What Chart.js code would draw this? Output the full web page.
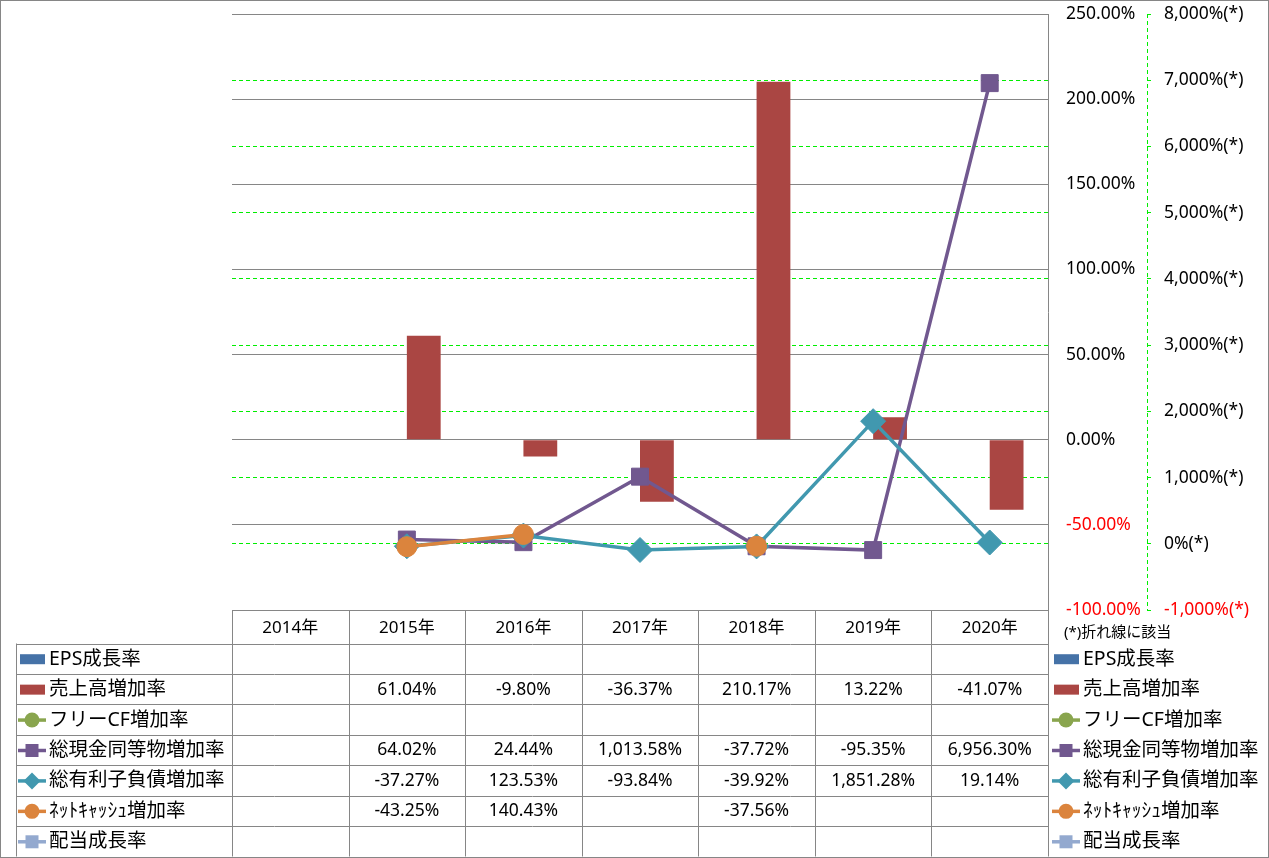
<!DOCTYPE html>
<html><head><meta charset="utf-8">
<script src="https://cdn.jsdelivr.net/npm/chart.js@4.4.1/dist/chart.umd.min.js"></script>
<style>html,body{margin:0;padding:0;background:#fff}#wrap{position:relative;width:1269px;height:858px}canvas{display:block}</style>
</head><body><div id="wrap"><canvas id="c" width="1269" height="858"></canvas></div>
<script>
// ---- data ----
const categories = ['2014年','2015年','2016年','2017年','2018年','2019年','2020年'];
const epsGrowth      = [null, null, null, null, null, null, null];
const salesGrowth    = [null, 61.04, -9.80, -36.37, 210.17, 13.22, -41.07];
const freeCfGrowth   = [null, null, null, null, null, null, null];
const cashGrowth     = [null, 64.02, 24.44, 1013.58, -37.72, -95.35, 6956.30];
const debtGrowth     = [null, -37.27, 123.53, -93.84, -39.92, 1851.28, 19.14];
const netCashGrowth  = [null, -43.25, 140.43, null, -37.56, null, null];
const dividendGrowth = [null, null, null, null, null, null, null];
const seriesNames = ['EPS成長率','売上高増加率','フリーCF増加率','総現金同等物増加率','総有利子負債増加率','ﾈｯﾄｷｬｯｼｭ増加率','配当成長率'];
const primaryRange = [-100, 250, 50];
const secondaryRange = [-1000, 8000, 1000];
const secondaryNote = '(*)折れ線に該当';

const FONT = '"Noto Sans", "Noto Sans CJK JP", sans-serif';
const GRID = '#868686';
const GREEN = '#00EE00';

const series = [
  {name: seriesNames[0], data: epsGrowth, kind: 'bar', color: '#4572A7'},
  {name: seriesNames[1], data: salesGrowth, kind: 'bar', color: '#AA4643'},
  {name: seriesNames[2], data: freeCfGrowth, kind: 'line', color: '#89A54E', shape: 'circle', order: 5},
  {name: seriesNames[3], data: cashGrowth, kind: 'line', color: '#71588F', shape: 'rect', order: 4},
  {name: seriesNames[4], data: debtGrowth, kind: 'line', color: '#4198AF', shape: 'rectRot', order: 3},
  {name: seriesNames[5], data: netCashGrowth, kind: 'line', color: '#DB843D', shape: 'circle', order: 2},
  {name: seriesNames[6], data: dividendGrowth, kind: 'line', color: '#93A9CF', shape: 'rect', order: 1}
];

const radiusFor = {circle: 10, rect: 12, rectRot: 12.5};

const datasets = series.map(s => s.kind === 'bar' ? {
  type: 'bar', label: s.name, data: s.data, backgroundColor: s.color,
  yAxisID: 'y', order: 10, barPercentage: 1, categoryPercentage: 0.58
} : {
  type: 'line', label: s.name, data: s.data, borderColor: s.color, backgroundColor: s.color,
  borderWidth: 3.5, pointStyle: s.shape, pointRadius: radiusFor[s.shape], pointHoverRadius: radiusFor[s.shape],
  pointBackgroundColor: s.color, pointBorderColor: s.color, pointBorderWidth: 1,
  yAxisID: 'y2', order: s.order, tension: 0, spanGaps: false
});

function fmtPct(v) {
  return v.toLocaleString('en-US', {minimumFractionDigits: 2, maximumFractionDigits: 2}) + '%';
}

function drawShape(ctx, shape, x, y, r) {
  ctx.beginPath();
  if (shape === 'circle') {
    ctx.arc(x, y, r, 0, Math.PI * 2);
  } else if (shape === 'rect') {
    ctx.rect(x - r, y - r, 2 * r, 2 * r);
  } else {
    ctx.moveTo(x, y - r); ctx.lineTo(x + r, y); ctx.lineTo(x, y + r); ctx.lineTo(x - r, y); ctx.closePath();
  }
  ctx.fill();
}

function drawLegendMarker(ctx, s, x, y) {
  ctx.save();
  if (s.kind === 'bar') {
    ctx.fillStyle = s.color;
    ctx.fillRect(x + 1, y - 5, 25, 10);
  } else {
    ctx.strokeStyle = s.color; ctx.lineWidth = 3.5;
    ctx.beginPath(); ctx.moveTo(x - 1, y); ctx.lineTo(x + 27, y); ctx.stroke();
    ctx.fillStyle = s.color;
    const r = s.shape === 'circle' ? 7.5 : (s.shape === 'rect' ? 6.5 : 8.5);
    drawShape(ctx, s.shape, x + 13, y, r);
  }
  ctx.restore();
}

const tablePlugin = {
  id: 'dataTable',
  beforeDatasetsDraw(chart) {
    const ctx = chart.ctx, ca = chart.chartArea, y2 = chart.scales.y2;
    ctx.save();
    ctx.strokeStyle = GREEN; ctx.lineWidth = 1; ctx.setLineDash([4, 3]);
    const x = Math.round(y2.left) + 0.5;
    ctx.beginPath(); ctx.moveTo(x, ca.top); ctx.lineTo(x, ca.bottom); ctx.stroke();
    ctx.restore();
  },
  afterDraw(chart) {
    const ctx = chart.ctx, ca = chart.chartArea;
    const n = categories.length;
    const colW = (ca.right - ca.left) / n;
    const tableTop = Math.round(ca.bottom) + 0.5;
    const headerBottom = tableTop + 33;
    const tableBottom = chart.height - 1.5;
    const rowH = (tableBottom - headerBottom) / series.length;
    const labelLeft = 16.5;
    ctx.save();
    ctx.strokeStyle = GRID; ctx.lineWidth = 1;
    for (let i = 0; i <= n; i++) {
      const x = Math.round(ca.left + i * colW) + 0.5;
      ctx.beginPath(); ctx.moveTo(x, tableTop); ctx.lineTo(x, tableBottom); ctx.stroke();
    }
    ctx.beginPath(); ctx.moveTo(labelLeft, headerBottom); ctx.lineTo(labelLeft, tableBottom); ctx.stroke();
    for (let r = 0; r <= series.length; r++) {
      const y = Math.round(headerBottom + r * rowH) + 0.5;
      ctx.beginPath(); ctx.moveTo(labelLeft, y); ctx.lineTo(Math.round(ca.right) + 0.5, y); ctx.stroke();
    }
    ctx.fillStyle = '#000';
    ctx.textBaseline = 'middle';
    ctx.textAlign = 'center';
    ctx.font = '17px ' + FONT;
    categories.forEach((c, i) => {
      ctx.fillText(c, ca.left + (i + 0.5) * colW, (tableTop + headerBottom) / 2 + 1);
    });
    series.forEach((s, r) => {
      const yc = headerBottom + (r + 0.5) * rowH + 0.5;
      ctx.textAlign = 'center';
      ctx.font = '17.5px ' + FONT;
      ctx.fillStyle = '#000';
      s.data.forEach((v, i) => {
        if (v === null || v === undefined) return;
        ctx.fillText(fmtPct(v), ca.left + (i + 0.5) * colW, yc);
      });
      drawLegendMarker(ctx, s, 19, yc);
      ctx.fillStyle = '#000'; ctx.textAlign = 'left'; ctx.font = '19.5px ' + FONT;
      ctx.fillText(s.name, 49, yc);
      drawLegendMarker(ctx, s, 1053, yc);
      ctx.fillStyle = '#000'; ctx.textAlign = 'left'; ctx.font = '19.5px ' + FONT;
      ctx.fillText(s.name, 1083, yc);
    });
    ctx.font = '15px ' + FONT; ctx.textAlign = 'left'; ctx.fillStyle = '#000';
    ctx.fillText(secondaryNote, 1064, tableTop + 22);
    ctx.strokeStyle = GRID;
    ctx.strokeRect(0.5, 0.5, chart.width - 1, chart.height - 1);
    ctx.restore();
  }
};

Chart.defaults.font.family = FONT;
new Chart(document.getElementById('c'), {
  type: 'bar',
  data: {labels: categories, datasets},
  plugins: [tablePlugin],
  options: {
    responsive: false, animation: false, devicePixelRatio: 1,
    layout: {padding: {left: 232, top: 14, right: 0, bottom: 248}},
    plugins: {legend: {display: false}, tooltip: {enabled: false}},
    scales: {
      x: {display: false, offset: true},
      y: {
        position: 'right', weight: 0,
        min: primaryRange[0], max: primaryRange[1],
        ticks: {stepSize: primaryRange[2], callback: v => v.toFixed(2) + '%',
          color: c => c.tick.value < 0 ? '#FF0000' : '#000', font: {size: 17.5}, padding: 18},
        grid: {color: GRID, drawTicks: false, lineWidth: 1},
        border: {display: true, color: GRID, width: 1},
        afterFit: s => { s.width = 99; s.paddingTop = 0; s.paddingBottom = 0; }
      },
      y2: {
        position: 'right', weight: 1,
        min: secondaryRange[0], max: secondaryRange[1],
        ticks: {stepSize: secondaryRange[2], callback: v => v.toLocaleString('en-US') + '%(*)',
          color: c => c.tick.value < 0 ? '#FF0000' : '#000', font: {size: 17.5}, padding: 13},
        grid: {
          color: c => (c.tick && (c.tick.value === secondaryRange[0] || c.tick.value === secondaryRange[1])) ? 'rgba(0,0,0,0)' : GREEN,
          drawTicks: true, tickLength: 4, tickColor: GREEN, tickBorderDash: [], lineWidth: 1
        },
        border: {display: false, dash: [4, 3]},
        afterFit: s => { s.width = 122; s.paddingTop = 0; s.paddingBottom = 0; }
      }
    }
  }
});
</script>
</body></html>
